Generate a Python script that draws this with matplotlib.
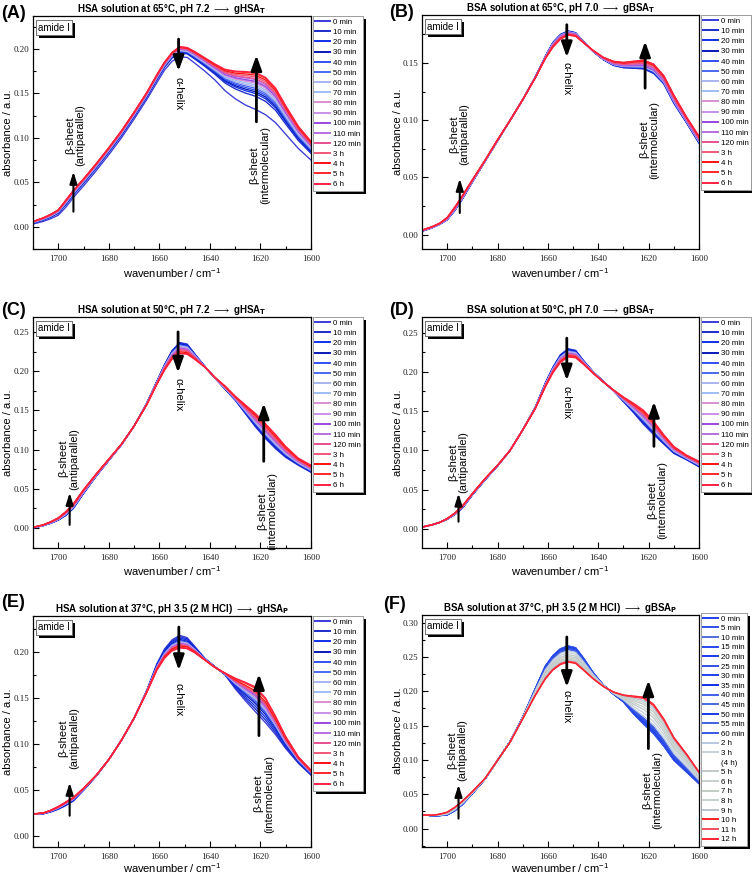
import numpy as np
import matplotlib
matplotlib.use("Agg")
import matplotlib.pyplot as plt
from matplotlib.lines import Line2D
from matplotlib.ticker import MultipleLocator, FormatStrFormatter
import matplotlib.patheffects as pe

plt.rcParams['mathtext.default'] = 'regular'

# ---------------- data ----------------
wavenumber = [1710, 1706, 1703, 1700, 1697, 1694, 1690, 1685, 1680, 1675, 1670, 1665,
              1661, 1658, 1655, 1652, 1649, 1646, 1642, 1638, 1634, 1630, 1626, 1622,
              1618, 1614, 1610, 1605, 1600]

# (A) HSA 65 C  (first = 0 min, last = 6 h)
A_first = [0.003, 0.006, 0.009, 0.013, 0.022, 0.033, 0.046, 0.063, 0.081, 0.100, 0.121, 0.143,
           0.162, 0.176, 0.186, 0.191, 0.1905, 0.184, 0.175, 0.165, 0.153, 0.144, 0.137, 0.132,
           0.126, 0.117, 0.104, 0.088, 0.075]
A_last = [0.006, 0.010, 0.014, 0.019, 0.030, 0.041, 0.054, 0.071, 0.089, 0.108, 0.129, 0.151,
          0.171, 0.185, 0.196, 0.2025, 0.2015, 0.197, 0.190, 0.183, 0.177, 0.175, 0.1745, 0.1735,
          0.168, 0.156, 0.136, 0.113, 0.096]
A_shoulder = [0.131, 0.146, 0.149, 0.151, 0.153, 0.155, 0.157, 0.159, 0.161, 0.162,
              0.163, 0.165, 0.166, 0.168, 0.170, 0.172, 0.173]

# (B) BSA 65 C
B_first = [0.003, 0.006, 0.009, 0.013, 0.021, 0.031, 0.046, 0.064, 0.082, 0.100, 0.118, 0.138,
           0.156, 0.168, 0.175, 0.178, 0.1765, 0.169, 0.160, 0.153, 0.148, 0.146, 0.1455, 0.145,
           0.141, 0.132, 0.115, 0.098, 0.080]
B_last = [0.004, 0.007, 0.010, 0.015, 0.024, 0.034, 0.048, 0.065, 0.083, 0.100, 0.118, 0.137,
          0.154, 0.164, 0.171, 0.1745, 0.1735, 0.168, 0.161, 0.155, 0.1515, 0.1505, 0.1515, 0.1525,
          0.149, 0.139, 0.122, 0.103, 0.086]
B_shoulder = [0.145, 0.145, 0.146, 0.146, 0.146, 0.147, 0.147, 0.147, 0.148, 0.148,
              0.148, 0.149, 0.150, 0.151, 0.152, 0.153, 0.153]

# (C) HSA 50 C
C_first = [0.000, 0.003, 0.006, 0.010, 0.016, 0.025, 0.044, 0.066, 0.086, 0.106, 0.130, 0.159,
           0.187, 0.208, 0.226, 0.2365, 0.2345, 0.222, 0.206, 0.191, 0.177, 0.163, 0.146, 0.129,
           0.114, 0.101, 0.090, 0.080, 0.071]
C_last = [0.001, 0.004, 0.008, 0.013, 0.021, 0.031, 0.049, 0.069, 0.088, 0.107, 0.130, 0.157,
          0.183, 0.201, 0.215, 0.2225, 0.2215, 0.215, 0.205, 0.192, 0.181, 0.168, 0.157, 0.146,
          0.133, 0.119, 0.104, 0.089, 0.080]
C_shoulder = [0.121, 0.122, 0.123, 0.124, 0.125, 0.126, 0.127, 0.128, 0.129, 0.130,
              0.131, 0.132, 0.133, 0.135, 0.137, 0.139, 0.140]

# (D) BSA 50 C
D_first = [0.002, 0.005, 0.008, 0.012, 0.018, 0.026, 0.043, 0.062, 0.080, 0.100, 0.126, 0.155,
           0.186, 0.206, 0.222, 0.2295, 0.2275, 0.215, 0.200, 0.188, 0.176, 0.162, 0.148, 0.133,
           0.120, 0.108, 0.096, 0.088, 0.079]
D_last = [0.002, 0.005, 0.008, 0.013, 0.020, 0.029, 0.045, 0.064, 0.081, 0.100, 0.126, 0.153,
          0.181, 0.199, 0.212, 0.219, 0.218, 0.210, 0.198, 0.187, 0.177, 0.168, 0.160, 0.151,
          0.137, 0.120, 0.105, 0.094, 0.086]
D_shoulder = [0.126, 0.127, 0.128, 0.129, 0.130, 0.131, 0.132, 0.133, 0.134, 0.135,
              0.136, 0.137, 0.138, 0.139, 0.141, 0.142, 0.1436]

# (E) HSA 37 C, pH 3.5
E_first = [0.0235, 0.024, 0.026, 0.029, 0.033, 0.038, 0.0496, 0.065, 0.083, 0.104, 0.128, 0.158,
           0.187, 0.203, 0.213, 0.218, 0.2155, 0.206, 0.193, 0.184, 0.175, 0.160, 0.147, 0.135,
           0.123, 0.110, 0.095, 0.079, 0.066]
E_last = [0.024, 0.025, 0.028, 0.032, 0.037, 0.042, 0.052, 0.066, 0.083, 0.104, 0.128, 0.156,
          0.180, 0.193, 0.201, 0.2043, 0.2035, 0.199, 0.191, 0.183, 0.177, 0.1715, 0.167, 0.162,
          0.150, 0.130, 0.108, 0.086, 0.0715]
E_shoulder = [0.129, 0.132, 0.135, 0.138, 0.140, 0.142, 0.143, 0.144, 0.145, 0.146,
              0.147, 0.148, 0.149, 0.150, 0.152, 0.155, 0.1565]

# (F) BSA 37 C, pH 3.5 (first = 0 min, last = 12 h)
F_first = [0.020, 0.019, 0.019, 0.020, 0.026, 0.035, 0.051, 0.072, 0.0995, 0.127, 0.162, 0.204,
           0.237, 0.252, 0.262, 0.266, 0.2635, 0.249, 0.227, 0.209, 0.196, 0.1845, 0.167, 0.152,
           0.138, 0.120, 0.0995, 0.0825, 0.0655]
F_last = [0.020, 0.0195, 0.021, 0.024, 0.031, 0.040, 0.054, 0.073, 0.0995, 0.126, 0.160, 0.194,
          0.218, 0.231, 0.239, 0.2425, 0.2405, 0.231, 0.218, 0.207, 0.199, 0.1945, 0.193, 0.1915,
          0.181, 0.160, 0.133, 0.109, 0.0825]
F_shoulder = [0.1456, 0.146, 0.1468, 0.1476, 0.1484, 0.1492, 0.150, 0.1508, 0.1516,
              0.1524, 0.1532, 0.154, 0.155, 0.158, 0.163, None, 0.168, 0.172, 0.176,
              0.179, 0.182, 0.185, 0.186, 0.187]

labels_time = ['0 min', '10 min', '20 min', '30 min', '40 min', '50 min', '60 min',
               '70 min', '80 min', '90 min', '100 min', '110 min', '120 min',
               '3 h', '4 h', '5 h', '6 h']
labels_F = ['0 min', '5 min', '10 min', '15 min', '20 min', '25 min', '30 min',
            '35 min', '40 min', '45 min', '50 min', '55 min', '60 min', '2 h', '3 h',
            '(4 h)', '5 h', '6 h', '7 h', '8 h', '9 h', '10 h', '11 h', '12 h']

colors_time = ['#3a3ad8', '#1c2cc8', '#1030e8', '#0818b8', '#3050f0', '#4a68f0',
               '#a8b4f0', '#a0bcf4', '#d890d0', '#c890e8', '#9848e0', '#b870e0',
               '#e85090', '#f05878', '#ff1010', '#ff2828', '#ff2040']
colors_F = ['#2040f0', '#3050e8', '#5070d8', '#2848f0', '#1838f0', '#3050e8', '#2040f0',
            '#1030e8', '#4060e8', '#4868e0', '#1838e8', '#4060e0', '#3858e8',
            '#b8c8e0', '#c8d0d8', 'none', '#c0c8c8', '#c8d0cc', '#c0ccc4', '#c8d0d0',
            '#b8c4d0', '#ff2020', '#f05060', '#ff2030']

titles = ['HSA solution at 65°C, pH 7.2 $\\longrightarrow$ gHSA$_\\mathbf{T}$',
          'BSA solution at 65°C, pH 7.0 $\\longrightarrow$ gBSA$_\\mathbf{T}$',
          'HSA solution at 50°C, pH 7.2 $\\longrightarrow$ gHSA$_\\mathbf{T}$',
          'BSA solution at 50°C, pH 7.0 $\\longrightarrow$ gBSA$_\\mathbf{T}$',
          'HSA solution at 37°C, pH 3.5 (2 M HCl) $\\longrightarrow$ gHSA$_\\mathbf{P}$',
          'BSA solution at 37°C, pH 3.5 (2 M HCl) $\\longrightarrow$ gBSA$_\\mathbf{P}$']
letters = ['(A)', '(B)', '(C)', '(D)', '(E)', '(F)']

# ---------------- layout ----------------
W, H = 752, 875
fig = plt.figure(figsize=(W / 100, H / 100), dpi=100)
SANS = 'Liberation Sans'
SERIF = 'Liberation Serif'

# pixel boxes: left, right, top, bottom
boxes = [(33, 311, 16, 249), (422, 699, 15, 249),
         (33, 311, 317, 548), (422, 699, 317, 548),
         (33, 311, 616, 847), (422, 699, 615, 847)]
ylims = [(-0.025, 0.237), (-0.0125, 0.192), (-0.0255, 0.269),
         (-0.0246, 0.270), (-0.012, 0.239), (-0.0267, 0.311)]
letter_pos = [(1, 5), (389, 4), (1, 302), (389, 302), (1, 594), (383, 596)]
xlabel_y = [-0.072, -0.072, -0.072, -0.072, -0.06, -0.06]
annots = [
    ((1652.4, 0.211, 0.175, 0.150), (1621.6, 0.118, 0.193, 1620.3, 0.069), (1694.0, 0.017, 0.062, 1693.3, 0.103)),
    ((1652.5, 0.1835, 0.155, 0.136), (1621.4, 0.128, 0.169, 1619.8, 0.083), (1695.0, 0.019, 0.049, 1695.2, 0.088)),
    ((1652.6, 0.250, 0.198, 0.170), (1618.7, 0.085, 0.159, 1617.4, 0.0215), (1695.5, 0.004, 0.045, 1695.9, 0.0885)),
    ((1652.5, 0.243, 0.189, 0.161), (1617.9, 0.105, 0.162, 1616.5, 0.036), (1695.5, 0.009, 0.045, 1695.5, 0.0845)),
    ((1652.3, 0.227, 0.180, 0.148), (1620.6, 0.109, 0.176, 1618.7, 0.046), (1695.5, 0.022, 0.058, 1695.9, 0.106)),
    ((1652.5, 0.279, 0.206, 0.178), (1620.1, 0.1165, 0.216, 1618.5, 0.056), (1695.5, 0.0146, 0.064, 1695.9, 0.114)),
]

panels = [
    (A_first, A_last, A_shoulder, labels_time, colors_time),
    (B_first, B_last, B_shoulder, labels_time, colors_time),
    (C_first, C_last, C_shoulder, labels_time, colors_time),
    (D_first, D_last, D_shoulder, labels_time, colors_time),
    (E_first, E_last, E_shoulder, labels_time, colors_time),
    (F_first, F_last, F_shoulder, labels_F, colors_F),
]

shadow = [pe.withSimplePatchShadow(offset=(2.2, -2.2), shadow_rgbFace='black', alpha=1.0), pe.Normal()]

for i, (first, last, shoulder, labels, colors) in enumerate(panels):
    l, r, t, b = boxes[i]
    ax = fig.add_axes([l / W, 1 - b / H, (r - l) / W, (b - t) / H])
    x = np.array(wavenumber)
    y0 = np.array(first)
    y1 = np.array(last)
    s0, s1 = shoulder[0], shoulder[-1]
    handles = []
    for lab, col, s in zip(labels, colors, shoulder):
        if s is None:
            h = Line2D([], [], color='none', label=lab)
        else:
            w = (s - s0) / (s1 - s0)
            h, = ax.plot(x, y0 + w * (y1 - y0), color=col, lw=0.95, label=lab,
                         solid_joinstyle='round')
        handles.append(h)

    ax.set_xlim(1710, 1600)
    ax.set_ylim(*ylims[i])
    ax.xaxis.set_major_locator(MultipleLocator(20))
    ax.xaxis.set_minor_locator(MultipleLocator(10))
    ax.yaxis.set_major_locator(MultipleLocator(0.05))
    ax.yaxis.set_minor_locator(MultipleLocator(0.025))
    ax.yaxis.set_major_formatter(FormatStrFormatter('%.2f'))
    ax.tick_params(which='both', direction='in', top=False, right=False,
                   labelsize=6.5, width=0.8, labelcolor='#222222')
    ax.tick_params(which='major', length=4)
    ax.tick_params(which='minor', length=2)
    ax.tick_params(axis='x', pad=4)
    ax.tick_params(axis='y', pad=2.5)
    for lab in ax.get_xticklabels() + ax.get_yticklabels():
        lab.set_family(SERIF)
    for sp in ax.spines.values():
        sp.set_linewidth(0.9)

    ax.set_ylabel('absorbance / a.u.', fontsize=8, family=SANS)
    ax.set_xlabel('wavenumber / cm$^{-1}$', fontsize=8, family=SANS)
    ax.yaxis.set_label_coords(-0.072 if i % 2 == 0 else -0.068, 0.5)
    ax.xaxis.set_label_coords(0.5, xlabel_y[i])
    ax.set_title(titles[i], fontsize=7, fontweight='bold', family=SANS, pad=3)

    # amide I box
    tb = ax.text(0.018, 0.972, 'amide I', transform=ax.transAxes, ha='left', va='top',
                 fontsize=7, family=SANS,
                 bbox=dict(boxstyle='square,pad=0.22', fc='white', ec='#555555', lw=0.5))
    tb.get_bbox_patch().set_path_effects(shadow)

    # legend
    ytop = 1.0 if i < 5 else 1.01
    leg = ax.legend(handles=handles, loc='upper left', bbox_to_anchor=(1.007, ytop),
                    borderaxespad=0, handlelength=1.9, handletextpad=0.3,
                    labelspacing=0.33 if i < 5 else 0.26, borderpad=0.3,
                    fancybox=False, frameon=True, framealpha=1,
                    edgecolor='#888888', prop={'family': SANS, 'size': 5.7})
    leg.get_frame().set_linewidth(0.5)
    leg.get_frame().set_path_effects(shadow)
    for ln in leg.get_lines():
        ln.set_linewidth(1.4)

    # annotations
    (xh, th, hh, yh), (xi, ti, hi, xti, yti), (xa, ta, ha_, xta, yta) = annots[i]
    big = dict(arrowstyle='-|>,head_width=0.32,head_length=0.9', lw=2.0, color='black',
               shrinkA=0, shrinkB=0, mutation_scale=10)
    small = dict(arrowstyle='-|>,head_width=0.22,head_length=0.7', lw=1.5, color='black',
                 shrinkA=0, shrinkB=0, mutation_scale=10)
    ax.annotate('', xy=(xh, hh), xytext=(xh, th), arrowprops=big)
    ax.annotate('', xy=(xi, hi), xytext=(xi, ti), arrowprops=big)
    ax.annotate('', xy=(xa, ha_), xytext=(xa, ta), arrowprops=small)
    ax.text(xh, yh, 'α-helix', rotation=270, ha='center', va='center', fontsize=8, family=SANS)
    ax.text(xti, yti, 'β-sheet\n(intermolecular)', rotation=90, ha='center', va='center',
            fontsize=8, family=SANS, multialignment='center', linespacing=1.05)
    ax.text(xta, yta, 'β-sheet\n(antiparallel)', rotation=90, ha='center', va='center',
            fontsize=8, family=SANS, multialignment='center', linespacing=1.05)

    lx, ly = letter_pos[i]
    fig.text(lx / W, 1 - ly / H, letters[i], ha='left', va='top', fontsize=13,
             fontweight='bold', family=SANS)

fig.savefig('out.png', dpi=100)
